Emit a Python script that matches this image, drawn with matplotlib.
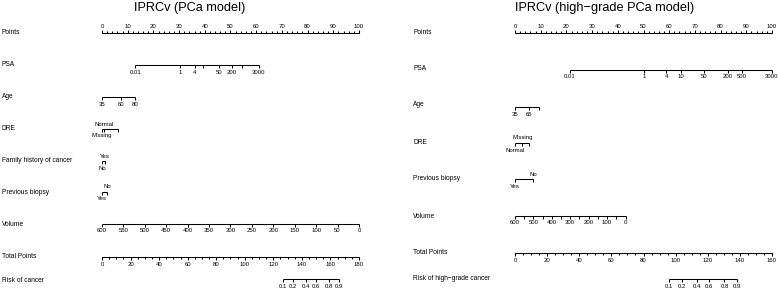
import numpy as np
import matplotlib.pyplot as plt

plt.rcParams['font.family'] = ['Liberation Sans', 'DejaVu Sans']

# ---- data (positions on the 0-100 Points scale) ----
points_ticks = list(range(0, 101, 10))

# PCa model (left)
psa_vals = ['0.01', '1', '4', '', '50', '200', '', '3000']
psa_pts_l = [12.9, 30.5, 36.0, 39.4, 45.7, 50.4, 54.3, 61.1]
age_vals_l = ['35', '60', '80']
age_pts_l = [0, 7.4, 12.9]
dre_vals_l = ['Missing', 'Normal', '']
dre_pts_l = [0, 0.8, 6.2]
fam_vals = ['No', 'Yes']
fam_pts = [0, 1.2]
bio_vals_l = ['Yes', 'No']
bio_pts_l = [0, 2.0]
vol_vals_l = list(range(600, -1, -50))
vol_pts_l = [(600 - v) / 6.0 for v in vol_vals_l]
total_max_l = 180
risk_vals = ['0.1', '0.2', '0.4', '0.6', '0.8', '0.9']
risk_tp_l = [127, 134, 143, 150, 159, 166]

# high-grade PCa model (right)
psa_labels_r = ['0.01', '1', '4', '10', '50', '200', '500', '3000']
psa_pts_r = [21.4, 50.2, 58.9, 64.6, 73.5, 82.9, 88.3, 100]
age_vals_r = ['35', '65', '']
age_pts_r = [0, 5.4, 9.3]
dre_vals_r = ['Normal', 'Missing', '']
dre_pts_r = [0, 2.9, 5.3]
bio_vals_r = ['Yes', 'No']
bio_pts_r = [0, 7.0]
vol_vals_r = list(range(600, -1, -50))
vol_pts_r = [(600 - v) / 600 * 43 for v in vol_vals_r]
total_max_r = 160
risk_tp_r = [96, 103.8, 113.3, 120.9, 130.4, 138.2]

LW = 0.75
FS_LAB = 4.8
FS_TICK = 4.3


def scale(ax, y, pos, labels, up=False, minor=None, alt=False):
    ax.plot([min(pos), max(pos)], [y, y], color='black', lw=LW, solid_capstyle='butt')
    d = -1 if up else 1
    if minor is not None:
        ax.vlines(minor, y, y + d * 1.6, color='black', lw=LW)
    ax.vlines(pos, y, y + d * 3, color='black', lw=LW)
    for i, (p, t) in enumerate(zip(pos, labels)):
        above = (i % 2 == 1) if alt else up
        if above:
            ax.text(p, y - 2.5 if alt else y - 4.5, str(t), ha='center', va='bottom', fontsize=FS_TICK)
        else:
            ax.text(p, y + 4.5, str(t), ha='center', va='top', fontsize=FS_TICK)


fig = plt.figure(figsize=(7.78, 2.98), dpi=100)
axl = fig.add_axes([0, 0, 390 / 778, 1])
axr = fig.add_axes([390 / 778, 0, 388 / 778, 1])
for ax in (axl, axr):
    ax.set_ylim(298, 0)
    ax.axis('off')
axl.set_xlim(-102 / 2.57, (390 - 102) / 2.57)
axr.set_xlim(-(515 - 390) / 2.57, (778 - 515) / 2.57)

# left panel
ax = axl
ax.text((190 - 102) / 2.57, 10.5, 'IPRCv (PCa model)', ha='center', va='baseline', fontsize=9.2)
lx = -102 / 2.57 + 1.5 / 2.57
rows_l = [('Points', 33), ('PSA', 64), ('Age', 97), ('DRE', 129), ('Family history of cancer', 161),
          ('Previous biopsy', 192), ('Volume', 224), ('Total Points', 257), ('Risk of cancer', 280)]
for name, y in rows_l:
    ax.text(lx, y, name, ha='left', va='center', fontsize=FS_LAB)
scale(ax, 33, points_ticks, points_ticks, up=True, minor=np.arange(0, 101, 2))
scale(ax, 65, psa_pts_l, psa_vals)
scale(ax, 97, age_pts_l, age_vals_l)
scale(ax, 129, dre_pts_l, dre_vals_l, alt=True)
scale(ax, 161, fam_pts, fam_vals, alt=True)
scale(ax, 192, bio_pts_l, bio_vals_l, alt=True)
scale(ax, 224, vol_pts_l, vol_vals_l)
tl = list(range(0, total_max_l + 1, 20))
scale(ax, 257, [t * 100 / total_max_l for t in tl], tl,
      minor=[t * 100 / total_max_l for t in range(0, total_max_l + 1, 5)])
scale(ax, 279, [t * 100 / total_max_l for t in risk_tp_l], risk_vals)

# right panel
ax = axr
ax.text((605 - 515) / 2.57, 10.5, 'IPRCv (high\u2212grade PCa model)', ha='center',
        va='baseline', fontsize=9.2)
lx = -(515 - 413) / 2.57
rows_r = [('Points', 33), ('PSA', 69), ('Age', 105), ('DRE', 142), ('Previous biopsy', 179),
          ('Volume', 216), ('Total Points', 253), ('Risk of high\u2212grade cancer', 279)]
for name, y in rows_r:
    ax.text(lx, y, name, ha='left', va='center', fontsize=FS_LAB)
scale(ax, 33, points_ticks, points_ticks, up=True, minor=np.arange(0, 101, 2))
scale(ax, 70, psa_pts_r, psa_labels_r)
scale(ax, 107, age_pts_r, age_vals_r)
scale(ax, 143, dre_pts_r, dre_vals_r, alt=True)
scale(ax, 179, bio_pts_r, bio_vals_r, alt=True)
scale(ax, 216, vol_pts_r, [v if v % 100 == 0 else '' for v in vol_vals_r])
tr = list(range(0, total_max_r + 1, 20))
scale(ax, 253, [t * 100 / total_max_r for t in tr], tr,
      minor=[t * 100 / total_max_r for t in range(0, total_max_r + 1, 5)])
scale(ax, 279, [t * 100 / total_max_r for t in risk_tp_r], risk_vals)

fig.savefig('out.png', dpi=100)
